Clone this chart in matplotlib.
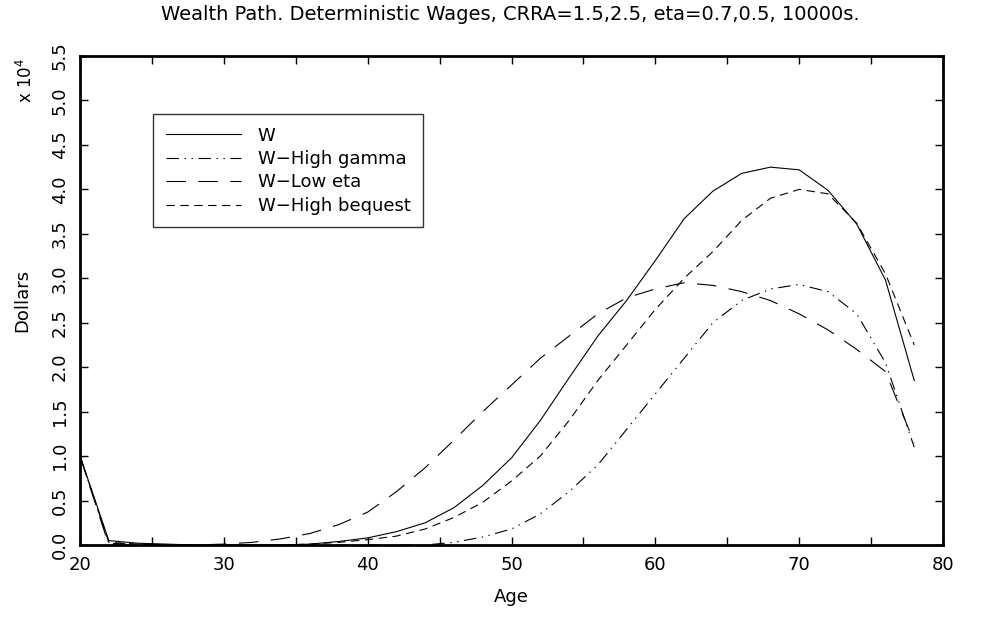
import numpy as np
import matplotlib
matplotlib.use("Agg")
import matplotlib.pyplot as plt

plt.rcParams['font.family'] = ['DejaVu Sans']
plt.rcParams['lines.scale_dashes'] = False

# Wealth paths, in units of 10^4 dollars, by age (every 2 years)
age = np.arange(20, 80, 2)

w_base = [1.00, 0.05, 0.02, 0.01, 0.00, 0.00, 0.00, 0.00, 0.01, 0.04,
          0.08, 0.15, 0.25, 0.42, 0.67, 0.98, 1.40, 1.88, 2.35, 2.75,
          3.20, 3.67, 3.98, 4.18, 4.25, 4.22, 3.99, 3.61, 2.98, 1.85]

w_high_gamma = [1.00, 0.02, 0.01, 0.00, 0.00, 0.00, 0.00, 0.00, 0.00, 0.00,
                0.00, 0.00, 0.00, 0.03, 0.09, 0.18, 0.35, 0.60, 0.90, 1.30,
                1.70, 2.10, 2.50, 2.75, 2.88, 2.93, 2.85, 2.60, 2.05, 1.10]

w_low_eta = [1.00, 0.00, 0.00, 0.00, 0.00, 0.01, 0.03, 0.07, 0.13, 0.23,
             0.37, 0.60, 0.87, 1.18, 1.50, 1.80, 2.10, 2.35, 2.60, 2.78,
             2.88, 2.95, 2.92, 2.85, 2.75, 2.60, 2.42, 2.20, 1.95, 1.15]

w_high_bequest = [1.00, 0.03, 0.01, 0.00, 0.00, 0.00, 0.00, 0.00, 0.01, 0.03,
                  0.06, 0.10, 0.18, 0.31, 0.48, 0.72, 1.00, 1.40, 1.85, 2.25,
                  2.65, 3.00, 3.30, 3.65, 3.90, 4.00, 3.95, 3.62, 3.05, 2.25]

fig = plt.figure(figsize=(9.82, 6.17), dpi=100)
ax = fig.add_axes([0.0815, 0.1167, 0.8788, 0.7925])

lw = 0.8
ax.plot(age, w_base, color='black', lw=lw, label='W')
ax.plot(age, w_high_gamma, color='black', lw=lw,
        linestyle=(0, (9, 4, 1, 4, 1, 4)), label='W\u2212High gamma')
ax.plot(age, w_low_eta, color='black', lw=lw,
        linestyle=(0, (14, 9)), label='W\u2212Low eta')
ax.plot(age, w_high_bequest, color='black', lw=lw,
        linestyle=(0, (6, 4)), label='W\u2212High bequest')

ax.set_xlim(20, 80)
ax.set_ylim(0, 5.5)
ax.set_xticks([20, 30, 40, 50, 60, 70, 80])
ax.set_xticks(np.arange(25, 80, 10), minor=True)
ax.set_yticks(np.arange(0, 5.51, 0.5))
ax.set_yticklabels([f"{v:.1f}" for v in np.arange(0, 5.51, 0.5)],
                   rotation=90, va='center')

ax.tick_params(which='both', direction='in', top=True, right=True,
               length=6, width=1, labelsize=13, colors='black')
ax.tick_params(axis='x', pad=8)
ax.tick_params(axis='y', pad=8)
for s in ax.spines.values():
    s.set_linewidth(2)

ax.set_xlabel('Age', fontsize=13, labelpad=10)
ax.set_ylabel('Dollars', fontsize=13, labelpad=14)
fig.text(0.026, 0.87, r'x 10$^4$', rotation=90, fontsize=12,
         ha='center', va='center')

fig.text(0.52, 0.992, 'Wealth Path. Deterministic Wages, CRRA=1.5,2.5, eta=0.7,0.5, 10000s.',
         fontsize=14, ha='center', va='top')

leg = ax.legend(loc='upper left', bbox_to_anchor=(0.074, 0.9),
                fancybox=False, edgecolor='black', fontsize=13,
                handlelength=4.2, labelspacing=0.3, borderpad=0.7,
                handletextpad=0.9)
leg.get_frame().set_linewidth(1)

fig.savefig('out.png', dpi=100)
